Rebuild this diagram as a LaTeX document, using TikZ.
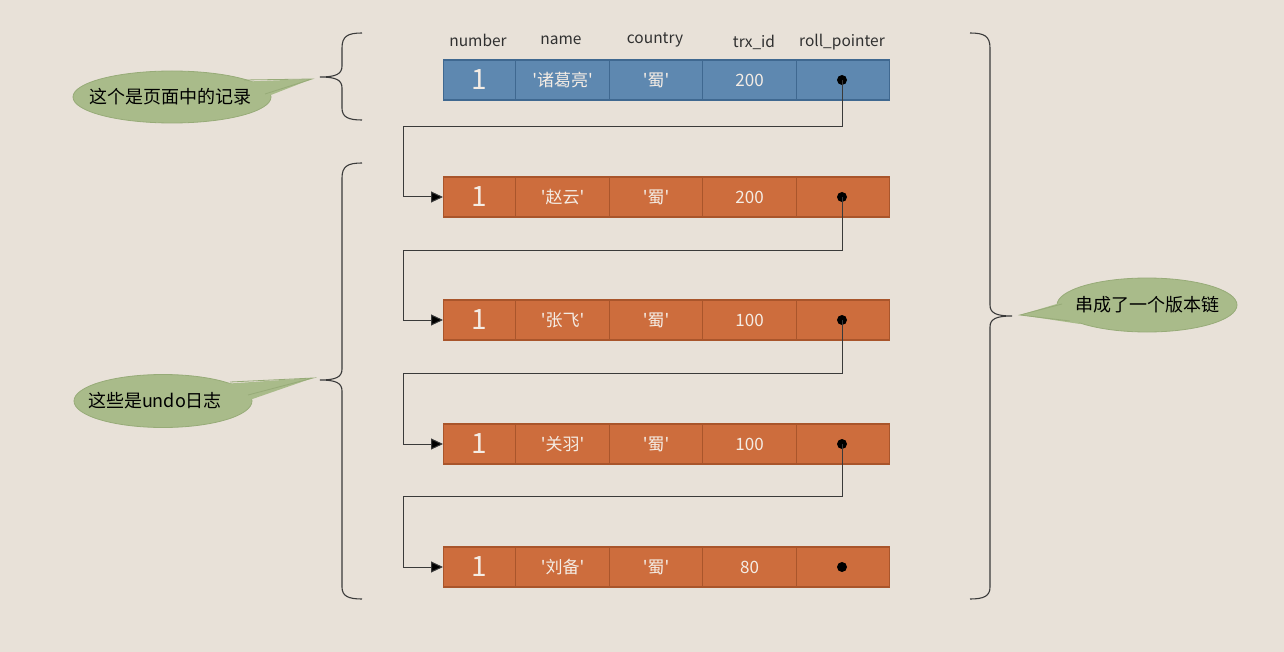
\documentclass[tikz,border=0pt]{standalone}
\usepackage{fontspec}
\newfontfamily\cjkf{Noto Sans CJK SC}
\usetikzlibrary{arrows.meta}
\definecolor{bg}{HTML}{E8E1D8}
\definecolor{blue1}{HTML}{5E88B0}
\definecolor{blue2}{HTML}{3F6890}
\definecolor{org1}{HTML}{CD6D3D}
\definecolor{org2}{HTML}{A9552B}
\definecolor{cell}{HTML}{F4ECE4}
\definecolor{grn1}{HTML}{A9BB8A}
\definecolor{grn2}{HTML}{97AB78}
\definecolor{hdr}{HTML}{303030}
\definecolor{ln}{HTML}{3A3A3A}
\tikzset{
  cellbox/.style={draw=#1, line width=1.2pt, minimum height=40pt, inner sep=0pt, anchor=west, text=cell, font=\cjkf\fontsize{17}{17}\selectfont},
  bluecell/.style={cellbox=blue2, fill=blue1},
  orgcell/.style={cellbox=org2, fill=org1},
  numtext/.style={font=\cjkf\fontsize{28}{28}\selectfont},
  hdrtext/.style={text=hdr, font=\cjkf\fontsize{15.5}{15.5}\selectfont},
  dotnode/.style={circle, fill=black, inner sep=0pt, minimum size=10pt},
  link/.style={draw=ln, line width=1pt},
  linkarrow/.style={link, -{Triangle[length=12pt,width=11pt,fill=black]}},
  bubbletext/.style={text=black, inner sep=0pt, font=\cjkf\fontsize{18}{18}\selectfont},
  bubblefill/.style={fill=grn1, draw=grn2, line width=0.8pt},
  tail/.style={fill=grn1, draw=none},
  brace/.style={draw=ln, line width=1.1pt}
}
\begin{document}
\begin{tikzpicture}[x=1pt,y=-1pt]
\useasboundingbox[fill=bg] (0,0) rectangle (1284,652);
% headers
\node[hdrtext] (h1) at (478,40) {number};
\node[hdrtext] (h2) at (561,40) {name};
\node[hdrtext] (h3) at (655,40) {country};
\node[hdrtext] (h4) at (754,42) {trx\_id};
\node[hdrtext] (h5) at (842,42) {roll\_pointer};
% rows
\foreach \r/\y/\st/\nm/\trx in {1/80/bluecell/诸葛亮/200, 2/197/orgcell/赵云/200, 3/320/orgcell/张飞/100, 4/444/orgcell/关羽/100, 5/567/orgcell/刘备/80}{
  \node[\st, minimum width=72pt, numtext] (r\r c1) at (443,\y) {1};
  \node[\st, minimum width=94pt] (r\r c2) at (515,\y) {'\nm'};
  \node[\st, minimum width=93pt] (r\r c3) at (609,\y) {'蜀'};
  \node[\st, minimum width=94pt] (r\r c4) at (702,\y) {\trx};
  \node[\st, minimum width=93pt] (r\r c5) at (796,\y) {};
  \node[dotnode] (d\r) at (842,\y) {};
}
% connector bends
\coordinate (k1) at (403,127);
\coordinate (k2) at (403,251);
\coordinate (k3) at (403,373);
\coordinate (k4) at (403,496);
\draw[linkarrow] (d1.center) |- (k1) |- (r2c1.west);
\draw[linkarrow] (d2.center) |- (k2) |- (r3c1.west);
\draw[linkarrow] (d3.center) |- (k3) |- (r4c1.west);
\draw[linkarrow] (d4.center) |- (k4) |- (r5c1.west);
% braces
\draw[brace] (362,33) .. controls (348,33) and (342,36) .. (342,48) -- (342,66)
  .. controls (342,74) and (336,77) .. (320,77) .. controls (336,77) and (342,80) .. (342,88)
  -- (342,108) .. controls (342,117) and (348,120) .. (362,120);
\draw[brace] (362,163) .. controls (348,163) and (342,166) .. (342,178) -- (342,369)
  .. controls (342,377) and (336,380) .. (320,380) .. controls (336,380) and (342,383) .. (342,391)
  -- (342,587) .. controls (342,596) and (348,599) .. (362,599);
\draw[brace] (970,33) .. controls (984,33) and (990,36) .. (990,48) -- (990,305)
  .. controls (990,313) and (996,316) .. (1012,316) .. controls (996,316) and (990,319) .. (990,327)
  -- (990,587) .. controls (990,596) and (984,599) .. (970,599);
% callouts
\draw[bubblefill] (172,97) ellipse [x radius=99, y radius=26];
\fill[tail] (235,82) -- (312,79) -- (258,100) -- cycle;
\draw[grn2, line width=0.8pt] (244,80) -- (312,79) -- (265,94);
\node[bubbletext] (b1) at (170,97) {这个是页面中的记录};
\draw[bubblefill] (163,401) ellipse [x radius=89, y radius=26.5];
\fill[tail] (222,384) -- (313,378) -- (238,404) -- cycle;
\draw[grn2, line width=0.8pt] (230,382) -- (313,378) -- (248,395);
\node[bubbletext] (b2) at (155,401) {这些是undo日志};
\draw[bubblefill] (1147,305) ellipse [x radius=90, y radius=27];
\fill[tail] (1070,300) -- (1020,315) -- (1080,324) -- cycle;
\draw[grn2, line width=0.8pt] (1062,304) -- (1020,315) -- (1070,321);
\node[bubbletext] (b3) at (1147,305) {串成了一个版本链};
\end{tikzpicture}
\end{document}
